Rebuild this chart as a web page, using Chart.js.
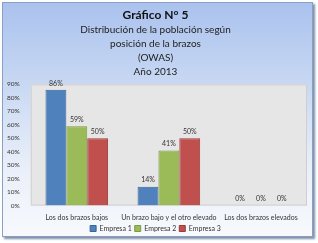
<!DOCTYPE html>
<html>
<head>
<meta charset="utf-8">
<script src="https://cdn.jsdelivr.net/npm/chart.js@4"></script>
<style>
    html, body { margin: 0; padding: 0; background: #fff; }
    #wrap { position: relative; width: 318px; height: 243px; }
    #frame {
        position: absolute; left: 2px; top: 2px; width: 309px; height: 233px;
        border: 1px solid #8a9fc4;
        background: linear-gradient(to bottom, #aac2ee 0%, #c4d5f2 30%, #e9eff9 70%, #f7f9fd 100%);
        box-shadow: 2px 2px 2px #7f8ea8;
    }
    canvas { position: absolute; left: 0; top: 0; }
</style>
</head>
<body>
<div id="wrap">
    <div id="frame"></div>
    <canvas id="chart" width="318" height="243"></canvas>
</div>
<script>
    // Chart data
    const categories = ['Los dos brazos bajos', 'Un brazo bajo y el otro elevado', 'Los dos brazos elevados'];
    const empresa1 = [86, 14, 0];
    const empresa2 = [59, 41, 0];
    const empresa3 = [50, 50, 0];
    const seriesNames = ['Empresa 1', 'Empresa 2', 'Empresa 3'];
    const titleText = 'Gráfico N° 5';
    const subtitleLines = ['Distribución de la población según', 'posición de la brazos', '(OWAS)', 'Año 2013'];

    const fillColors = ['#4f81bd', '#9bbb59', '#c0504d'];
    const borderColors = ['#3a6598', '#7d9a42', '#9b3b38'];

    // gray plot background
    const plotBackground = {
        id: 'plotBackground',
        beforeDraw(chart) {
            const { ctx, chartArea: a } = chart;
            ctx.save();
            ctx.fillStyle = '#e6e6e6';
            ctx.fillRect(a.left, a.top, a.right - a.left, a.bottom - a.top);
            ctx.strokeStyle = '#cfcfcf';
            ctx.lineWidth = 1;
            ctx.strokeRect(a.left + 0.5, a.top + 0.5, a.right - a.left - 1, a.bottom - a.top - 1);
            ctx.restore();
        }
    };

    // value labels above bars
    const valueLabels = {
        id: 'valueLabels',
        afterDatasetsDraw(chart) {
            const ctx = chart.ctx;
            ctx.save();
            ctx.font = '7px Lato';
            ctx.fillStyle = '#333';
            ctx.textAlign = 'center';
            ctx.textBaseline = 'bottom';
            chart.data.datasets.forEach((ds, i) => {
                chart.getDatasetMeta(i).data.forEach((bar, j) => {
                    ctx.fillText(ds.data[j] + '%', bar.x, bar.y - 3);
                });
            });
            ctx.restore();
        }
    };

    const ctx = document.getElementById('chart').getContext('2d');
    new Chart(ctx, {
        type: 'bar',
        data: {
            labels: categories,
            datasets: [empresa1, empresa2, empresa3].map((d, i) => ({
                label: seriesNames[i],
                data: d,
                backgroundColor: fillColors[i],
                borderColor: borderColors[i],
                borderWidth: 1,
                categoryPercentage: 0.68,
                barPercentage: 1
            }))
        },
        options: {
            responsive: false,
            animation: false,
            layout: { padding: { top: 2, left: 4, right: 11, bottom: 1 } },
            plugins: {
                title: {
                    display: true,
                    text: titleText,
                    color: '#111',
                    font: { family: 'Lato', size: 12, weight: 'bold' },
                    padding: { top: 6, bottom: 0 }
                },
                subtitle: {
                    display: true,
                    text: subtitleLines,
                    color: '#222',
                    font: { family: 'Lato', size: 10, lineHeight: 1.4 },
                    padding: { top: 0, bottom: 6 }
                },
                legend: {
                    position: 'bottom',
                    labels: {
                        boxWidth: 6,
                        boxHeight: 6,
                        padding: 3,
                        color: '#333',
                        font: { family: 'Lato', size: 7 }
                    }
                },
                tooltip: { enabled: false }
            },
            scales: {
                x: {
                    grid: { display: false },
                    border: { display: false },
                    ticks: { color: '#333', font: { family: 'Lato', size: 7 }, maxRotation: 0, autoSkip: false, padding: 0 }
                },
                y: {
                    min: 0,
                    max: 90,
                    grid: { display: false },
                    border: { display: false },
                    ticks: {
                        stepSize: 10,
                        padding: 3,
                        color: '#333',
                        font: { family: 'Lato', size: 6.5 },
                        callback: v => v + '%'
                    }
                }
            }
        },
        plugins: [plotBackground, valueLabels]
    });
</script>
</body>
</html>
